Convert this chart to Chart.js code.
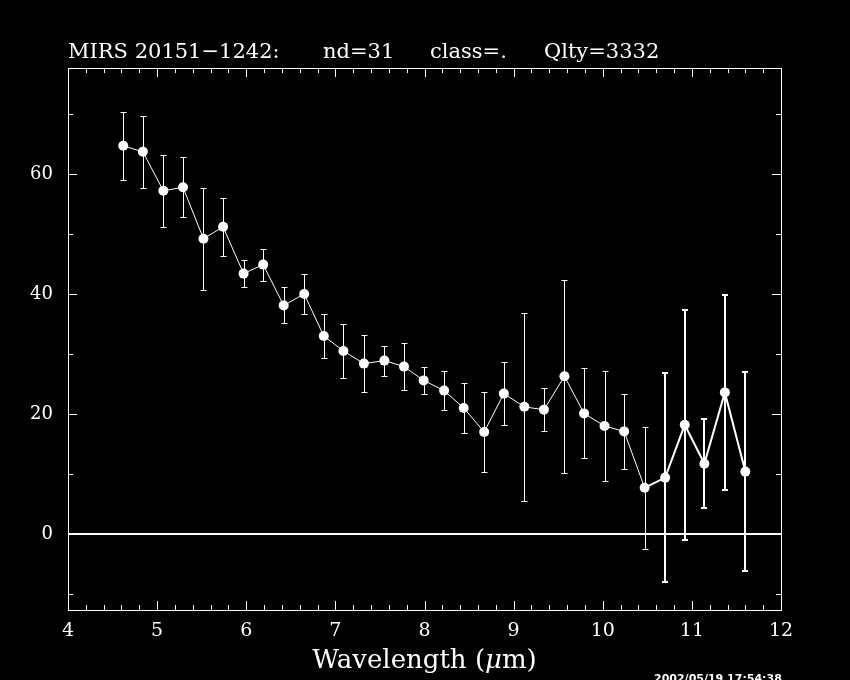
<!DOCTYPE html>
<html><head><meta charset="utf-8">
<script src="https://cdn.jsdelivr.net/npm/chart.js@4"></script>
<style>html,body{margin:0;padding:0;background:#000;overflow:hidden}</style>
</head><body>
<canvas id="c" width="850" height="680"></canvas>
<script>
const wavelength = [4.62, 4.84, 5.07, 5.29, 5.52, 5.74, 5.97, 6.19, 6.42, 6.65, 6.87, 7.09, 7.32, 7.55, 7.77, 7.99,
  8.22, 8.44, 8.67, 8.89, 9.12, 9.34, 9.57, 9.79, 10.02, 10.24, 10.47, 10.70, 10.92, 11.14, 11.37, 11.60];
const flux = [64.7, 63.7, 57.2, 57.8, 49.2, 51.2, 43.4, 44.9, 38.1, 40.0, 33.0, 30.5, 28.4, 28.9, 27.9, 25.6,
  23.9, 21.0, 17.0, 23.4, 21.2, 20.7, 26.3, 20.1, 18.0, 17.1, 7.7, 9.4, 18.2, 11.7, 23.6, 10.4];
const fluxErr = [5.7, 6.05, 6.0, 5.0, 8.5, 4.85, 2.2, 2.65, 3.0, 3.35, 3.6, 4.5, 4.75, 2.5, 3.9, 2.3,
  3.3, 4.1, 6.65, 5.25, 15.7, 3.55, 16.1, 7.5, 9.2, 6.25, 10.2, 17.45, 19.2, 7.4, 16.25, 16.6];
const xTickLabels = [4, 5, 6, 7, 8, 9, 10, 11, 12];
const yTickLabels = [0, 20, 40, 60];
const titleParts = ["MIRS 20151\u22121242:", "nd=31", "class=.", "Qlty=3332"];
const xTitleParts = ["Wavelength (", "\u03bc", "m)"];
const timestamp = "2002/05/19 17:54:38";

const SERIF = "'DejaVu Serif', 'Liberation Serif', serif";
const thick = i => i >= 27;

const decor = {
  id: 'decor',
  beforeDatasetsDraw(chart) {
    const ctx = chart.ctx, a = chart.chartArea;
    const xs = chart.scales.x, ys = chart.scales.y;
    ctx.save();
    ctx.strokeStyle = '#fff';
    ctx.lineWidth = 1;
    ctx.strokeRect(Math.round(a.left) + 0.5, Math.round(a.top) + 0.5,
      Math.round(a.right - a.left), Math.round(a.bottom - a.top));
    ctx.beginPath();
    for (let i = 0; i <= 40; i++) {
      const v = xs.min + i * 0.2;
      const px = Math.round(xs.getPixelForValue(v)) + 0.5;
      const len = (i % 5 === 0) ? 9 : 5;
      ctx.moveTo(px, a.bottom); ctx.lineTo(px, a.bottom - len);
      ctx.moveTo(px, a.top); ctx.lineTo(px, a.top + len);
    }
    for (let v = -10; v <= 70; v += 10) {
      const py = Math.round(ys.getPixelForValue(v)) + 0.5;
      const len = (v % 20 === 0) ? 9 : 5;
      ctx.moveTo(a.left, py); ctx.lineTo(a.left + len, py);
      ctx.moveTo(a.right, py); ctx.lineTo(a.right - len, py);
    }
    ctx.stroke();
    ctx.lineWidth = 2;
    const y0 = Math.round(ys.getPixelForValue(0));
    ctx.beginPath(); ctx.moveTo(a.left, y0); ctx.lineTo(a.right, y0); ctx.stroke();
    for (let i = 0; i < wavelength.length; i++) {
      const w = thick(i) ? 2 : 1;
      const off = w === 1 ? 0.5 : 0;
      ctx.lineWidth = w;
      const px = Math.round(xs.getPixelForValue(wavelength[i])) + off;
      const yHi = Math.round(ys.getPixelForValue(flux[i] + fluxErr[i])) + off;
      const yLo = Math.round(ys.getPixelForValue(flux[i] - fluxErr[i])) + off;
      ctx.beginPath();
      ctx.moveTo(px, yHi); ctx.lineTo(px, yLo);
      ctx.moveTo(px - 3, yHi); ctx.lineTo(px + 3, yHi);
      ctx.moveTo(px - 3, yLo); ctx.lineTo(px + 3, yLo);
      ctx.stroke();
    }
    ctx.restore();
  },
  afterDraw(chart) {
    const ctx = chart.ctx, a = chart.chartArea;
    ctx.save();
    ctx.fillStyle = '#fff';
    ctx.textBaseline = 'alphabetic';
    ctx.textAlign = 'left';
    ctx.font = '21px ' + SERIF;
    const tx = [a.left, 323, 430, 544];
    titleParts.forEach((t, i) => ctx.fillText(t, tx[i], 58));
    const fN = '26px ' + SERIF, fI = 'italic 26px ' + SERIF;
    const fonts = [fN, fI, fN];
    const widths = xTitleParts.map((t, i) => { ctx.font = fonts[i]; return ctx.measureText(t).width; });
    const total = widths.reduce((s, v) => s + v, 0);
    let x = (a.left + a.right) / 2 - total / 2;
    xTitleParts.forEach((t, i) => { ctx.font = fonts[i]; ctx.fillText(t, x, 668); x += widths[i]; });
    ctx.font = 'bold 11px "DejaVu Sans", sans-serif';
    ctx.textBaseline = 'top';
    ctx.fillText(timestamp, 654, 674);
    ctx.restore();
  }
};

new Chart(document.getElementById('c'), {
  type: 'scatter',
  data: {
    datasets: [{
      data: wavelength.map((w, i) => ({ x: w, y: flux[i] })),
      showLine: true,
      borderColor: '#fff',
      borderWidth: 1,
      segment: { borderWidth: c => thick(c.p1DataIndex) ? 2 : 1 },
      pointRadius: 5,
      pointBackgroundColor: '#fff',
      pointBorderWidth: 0
    }]
  },
  options: {
    responsive: false,
    animation: false,
    events: [],
    layout: { padding: { top: 68, right: 69, left: 0, bottom: 0 } },
    plugins: { legend: { display: false }, tooltip: { enabled: false }, title: { display: false } },
    scales: {
      x: {
        type: 'linear', min: 4, max: 12,
        afterBuildTicks: s => { s.ticks = xTickLabels.map(v => ({ value: v })); },
        afterFit: s => { s.height = 70; },
        grid: { display: false, drawTicks: false },
        border: { display: false },
        ticks: { color: '#fff', font: { family: SERIF, size: 19 }, padding: 10, maxRotation: 0, autoSkip: false }
      },
      y: {
        type: 'linear', min: -12.67, max: 77.67,
        afterBuildTicks: s => { s.ticks = yTickLabels.map(v => ({ value: v })); },
        afterFit: s => { s.width = 68; },
        grid: { display: false, drawTicks: false },
        border: { display: false },
        ticks: { color: '#fff', font: { family: SERIF, size: 18 }, padding: 15, autoSkip: false }
      }
    }
  },
  plugins: [decor]
});
</script>
</body></html>
